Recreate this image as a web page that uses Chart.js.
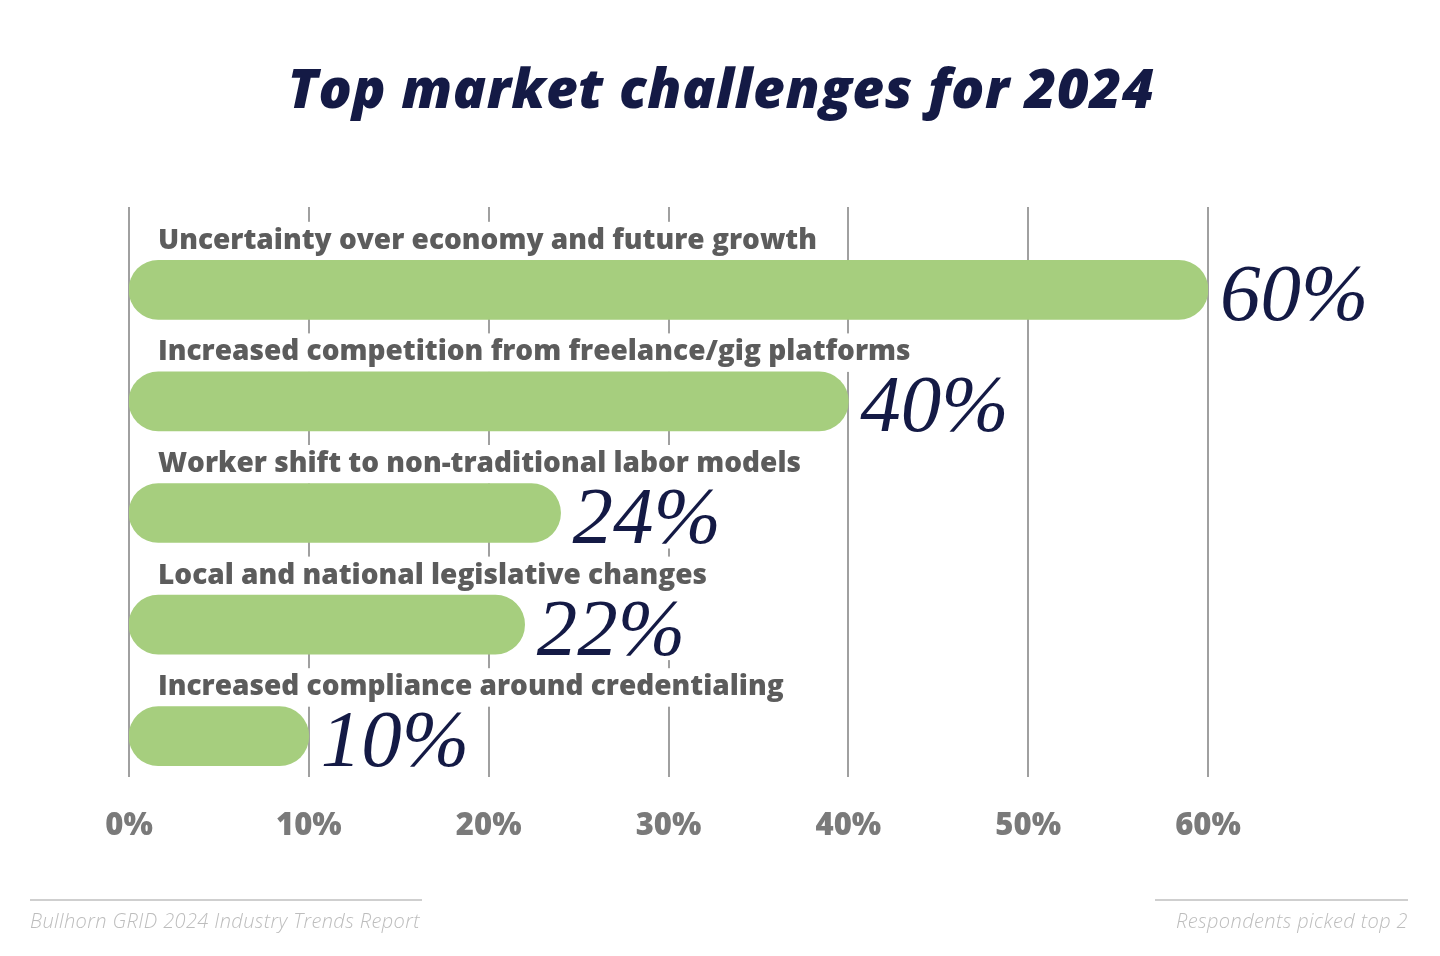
<!DOCTYPE html>
<html>
<head>
<meta charset="utf-8">
<script src="https://cdn.jsdelivr.net/npm/chart.js@4"></script>
<style>
  html, body { margin: 0; padding: 0; background: #fff; }
  #wrap { width: 1440px; height: 956px; position: relative; }
</style>
</head>
<body>
<div id="wrap"><canvas id="chart" width="1440" height="956"></canvas></div>
<script>
// data
const categories = [
  "Uncertainty over economy and future growth",
  "Increased competition from freelance/gig platforms",
  "Worker shift to non-traditional labor models",
  "Local and national legislative changes",
  "Increased compliance around credentialing",
];
const shares = [60, 40, 24, 22, 10];
const tickValues = [0, 10, 20, 30, 40, 50, 60];
const titleText = "Top market challenges for 2024";
const sourceText = "Bullhorn GRID 2024 Industry Trends Report";
const noteText = "Respondents picked top 2";

const NAVY = "#141a45";
const GREEN = "#a6ce7e";
const LABEL_FONT = "800 28px 'Open Sans'";
const VALUE_FONT = "italic 400 81px 'Liberation Serif'";

// gridlines + white boxes behind the text, drawn under the bars
const underlayPlugin = {
  id: "underlay",
  beforeDatasetsDraw(chart) {
    const { ctx, scales } = chart;
    const x = scales.x;
    ctx.save();
    ctx.strokeStyle = "#a0a0a0";
    ctx.lineWidth = 2;
    tickValues.forEach((v) => {
      const px = Math.round(x.getPixelForValue(v));
      ctx.beginPath();
      ctx.moveTo(px, 207);
      ctx.lineTo(px, 777);
      ctx.stroke();
    });

    const meta = chart.getDatasetMeta(0);
    ctx.fillStyle = "#fff";
    meta.data.forEach((bar, i) => {
      const top = bar.y - bar.height / 2;
      const bottom = bar.y + bar.height / 2;
      const ly = bar.y - 50;
      ctx.font = LABEL_FONT;
      const lw = ctx.measureText(categories[i]).width;
      ctx.fillRect(x.left + 22, ly - 18, lw + 14, top - (ly - 18));
      ctx.font = VALUE_FONT;
      const vw = ctx.measureText(shares[i] + "%").width;
      ctx.fillRect(bar.x + 6, top - 2, vw + 20, bottom + 6 - (top - 2));
    });
    ctx.restore();
  },
  afterDatasetsDraw(chart) {
    const { ctx, scales } = chart;
    const x = scales.x;
    const meta = chart.getDatasetMeta(0);
    ctx.save();
    meta.data.forEach((bar, i) => {
      ctx.font = LABEL_FONT;
      ctx.fillStyle = "#5c5c5c";
      ctx.textAlign = "left";
      ctx.textBaseline = "middle";
      ctx.fillText(categories[i], x.left + 29, bar.y - 49);

      ctx.font = VALUE_FONT;
      ctx.fillStyle = NAVY;
      ctx.textBaseline = "alphabetic";
      ctx.fillText(shares[i] + "%", bar.x + 12, bar.y + 30);
    });
    ctx.restore();
  },
  afterDraw(chart) {
    const { ctx } = chart;
    ctx.save();
    // title
    ctx.font = "italic 800 55px 'Open Sans'";
    ctx.letterSpacing = "0.6px";
    ctx.fillStyle = NAVY;
    ctx.textAlign = "center";
    ctx.textBaseline = "alphabetic";
    ctx.fillText(titleText, 721, 108);

    // footer
    ctx.letterSpacing = "0.4px";
    ctx.strokeStyle = "#cfcfcf";
    ctx.lineWidth = 2;
    ctx.beginPath();
    ctx.moveTo(30, 900);
    ctx.lineTo(422, 900);
    ctx.moveTo(1155, 900);
    ctx.lineTo(1408, 900);
    ctx.stroke();
    ctx.font = "italic 300 20px 'Open Sans'";
    ctx.fillStyle = "#bdbdbd";
    ctx.textAlign = "left";
    ctx.fillText(sourceText, 30, 928);
    ctx.textAlign = "right";
    ctx.fillText(noteText, 1408, 928);
    ctx.restore();
  },
};

new Chart(document.getElementById("chart").getContext("2d"), {
  type: "bar",
  data: {
    labels: categories,
    datasets: [
      {
        data: shares,
        backgroundColor: GREEN,
        barThickness: 59,
        borderRadius: 30,
        borderSkipped: false,
      },
    ],
  },
  options: {
    indexAxis: "y",
    responsive: false,
    animation: false,
    layout: { padding: { left: 129, right: 232, top: 234, bottom: 104 } },
    scales: {
      x: {
        min: 0,
        max: 60,
        grid: { display: false },
        border: { display: false },
        ticks: {
          stepSize: 10,
          padding: 8,
          color: "#7a7a7a",
          font: { family: "'Open Sans'", size: 31, weight: 800 },
          callback: (v) => v + "%",
        },
        afterFit: (scale) => {
          scale.height = 60;
        },
      },
      y: { display: false },
    },
    plugins: {
      legend: { display: false },
      tooltip: { enabled: false },
    },
  },
  plugins: [underlayPlugin],
});
</script>
</body>
</html>
